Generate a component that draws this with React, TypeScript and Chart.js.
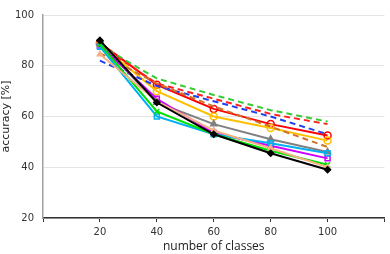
import React, { useEffect, useRef } from "react";
import { Chart, registerables } from "chart.js";

Chart.register(...registerables);

const classes = [20, 40, 60, 80, 100];
const xTicks = [20, 40, 60, 80, 100];

const greenDash = [88, 75, 68.5, 62.5, 58];
const redDash = [88, 73, 67, 61, 57];
const blueDash = [82, 72, 66, 60, 53];
const orangeDash = [85, 73, 64, 56, 48];
const redSolid = [89, 72.5, 63, 57, 52.5];
const goldSolid = [88.5, 70, 60, 55.5, 50.5];
const graySolid = [89, 65.5, 57, 51, 46];
const peachSolid = [84.5, 66, 54.5, 47.5, 40];
const magentaSolid = [88, 67, 53.5, 48.5, 43.5];
const cyanSolid = [87.5, 60, 53, 49.5, 45.5];
const greenSolid = [88.5, 62, 53, 46.5, 41];
const blackSolid = [90, 65.5, 53, 45.5, 39];

const pts = (v: number[]) => classes.map((c, i) => ({ x: c, y: v[i] }));

export default function App() {
  const ref = useRef<HTMLCanvasElement>(null);
  useEffect(() => {
    document.body.style.margin = "0";
    const dashed = (data: number[], color: string) => ({
      data: pts(data),
      borderColor: color,
      backgroundColor: color,
      borderWidth: 2,
      borderDash: [6, 4],
      pointRadius: 0,
      fill: false,
    });
    const solid = (data: number[], color: string, style: any, filled: boolean, r = 3.5) => ({
      data: pts(data),
      borderColor: color,
      backgroundColor: filled ? color : "rgba(255,255,255,0)",
      pointBorderColor: color,
      pointBackgroundColor: filled ? color : "rgba(255,255,255,0)",
      borderWidth: 2,
      pointBorderWidth: 1.5,
      pointStyle: style,
      pointRadius: r,
      fill: false,
    });
    const chart = new Chart(ref.current!, {
      type: "line",
      data: {
        datasets: [
          solid(blackSolid, "#000000", "rectRot", true, 3),
          solid(peachSolid, "#F4B183", "triangle", true, 3),
          solid(greenSolid, "#00E000", "crossRot", false, 3.5),
          solid(cyanSolid, "#00B0F0", "rect", false, 3.5),
          solid(magentaSolid, "#CC00FF", "rect", false, 3.5),
          solid(graySolid, "#808080", "triangle", true, 3.5),
          dashed(orangeDash, "#D0702A"),
          dashed(blueDash, "#2040F0"),
          dashed(redDash, "#FF2020"),
          dashed(greenDash, "#33CC33"),
          solid(goldSolid, "#FFC000", "circle", false, 3.5),
          solid(redSolid, "#FF0000", "circle", false, 3.5),
        ] as any,
      },
      options: {
        animation: false,
        responsive: false,
        maintainAspectRatio: false,
        layout: { padding: { top: 5, right: 1, left: 0, bottom: 0 } },
        plugins: { legend: { display: false }, tooltip: { enabled: false } },
        scales: {
          x: {
            type: "linear",
            min: 0,
            max: 120,
            afterBuildTicks: (s: any) => {
              s.ticks = [0, ...xTicks, 120].map((v) => ({ value: v }));
            },
            ticks: {
              callback: (v: any) => (xTicks.includes(v) ? String(v) : ""),
              color: "#333",
              font: { family: "DejaVu Sans", size: 10 },
              padding: 4,
              maxRotation: 0,
            },
            grid: {
              drawOnChartArea: false,
              drawTicks: true,
              tickLength: 4,
              color: "#333",
            },
            border: { color: "#333", width: 1.5 },
            title: {
              display: true,
              text: "number of classes",
              color: "#222",
              font: { family: "Open Sans", size: 12 },
              padding: { top: 1, bottom: 0 },
            },
            afterFit: (s: any) => {
              s.height = 36;
            },
          },
          y: {
            min: 20,
            max: 100,
            ticks: {
              stepSize: 20,
              color: "#333",
              font: { family: "DejaVu Sans", size: 10 },
              padding: 9,
            },
            grid: { color: "#E4E4E4", drawTicks: false, lineWidth: 1 },
            border: { color: "#A0A0A0", width: 1.5 },
            title: {
              display: true,
              text: "accuracy [%]",
              color: "#222",
              font: { family: "DejaVu Sans", size: 11 },
              padding: { top: 0, bottom: 0 },
            },
            afterFit: (s: any) => {
              s.width = 43;
            },
          },
        },
      },
    });
    return () => chart.destroy();
  }, []);
  return (
    <div style={{ position: "relative", width: 390, height: 254 }}>
      <canvas ref={ref} width={390} height={254} style={{ width: 390, height: 254, display: "block" }} />
    </div>
  );
}
